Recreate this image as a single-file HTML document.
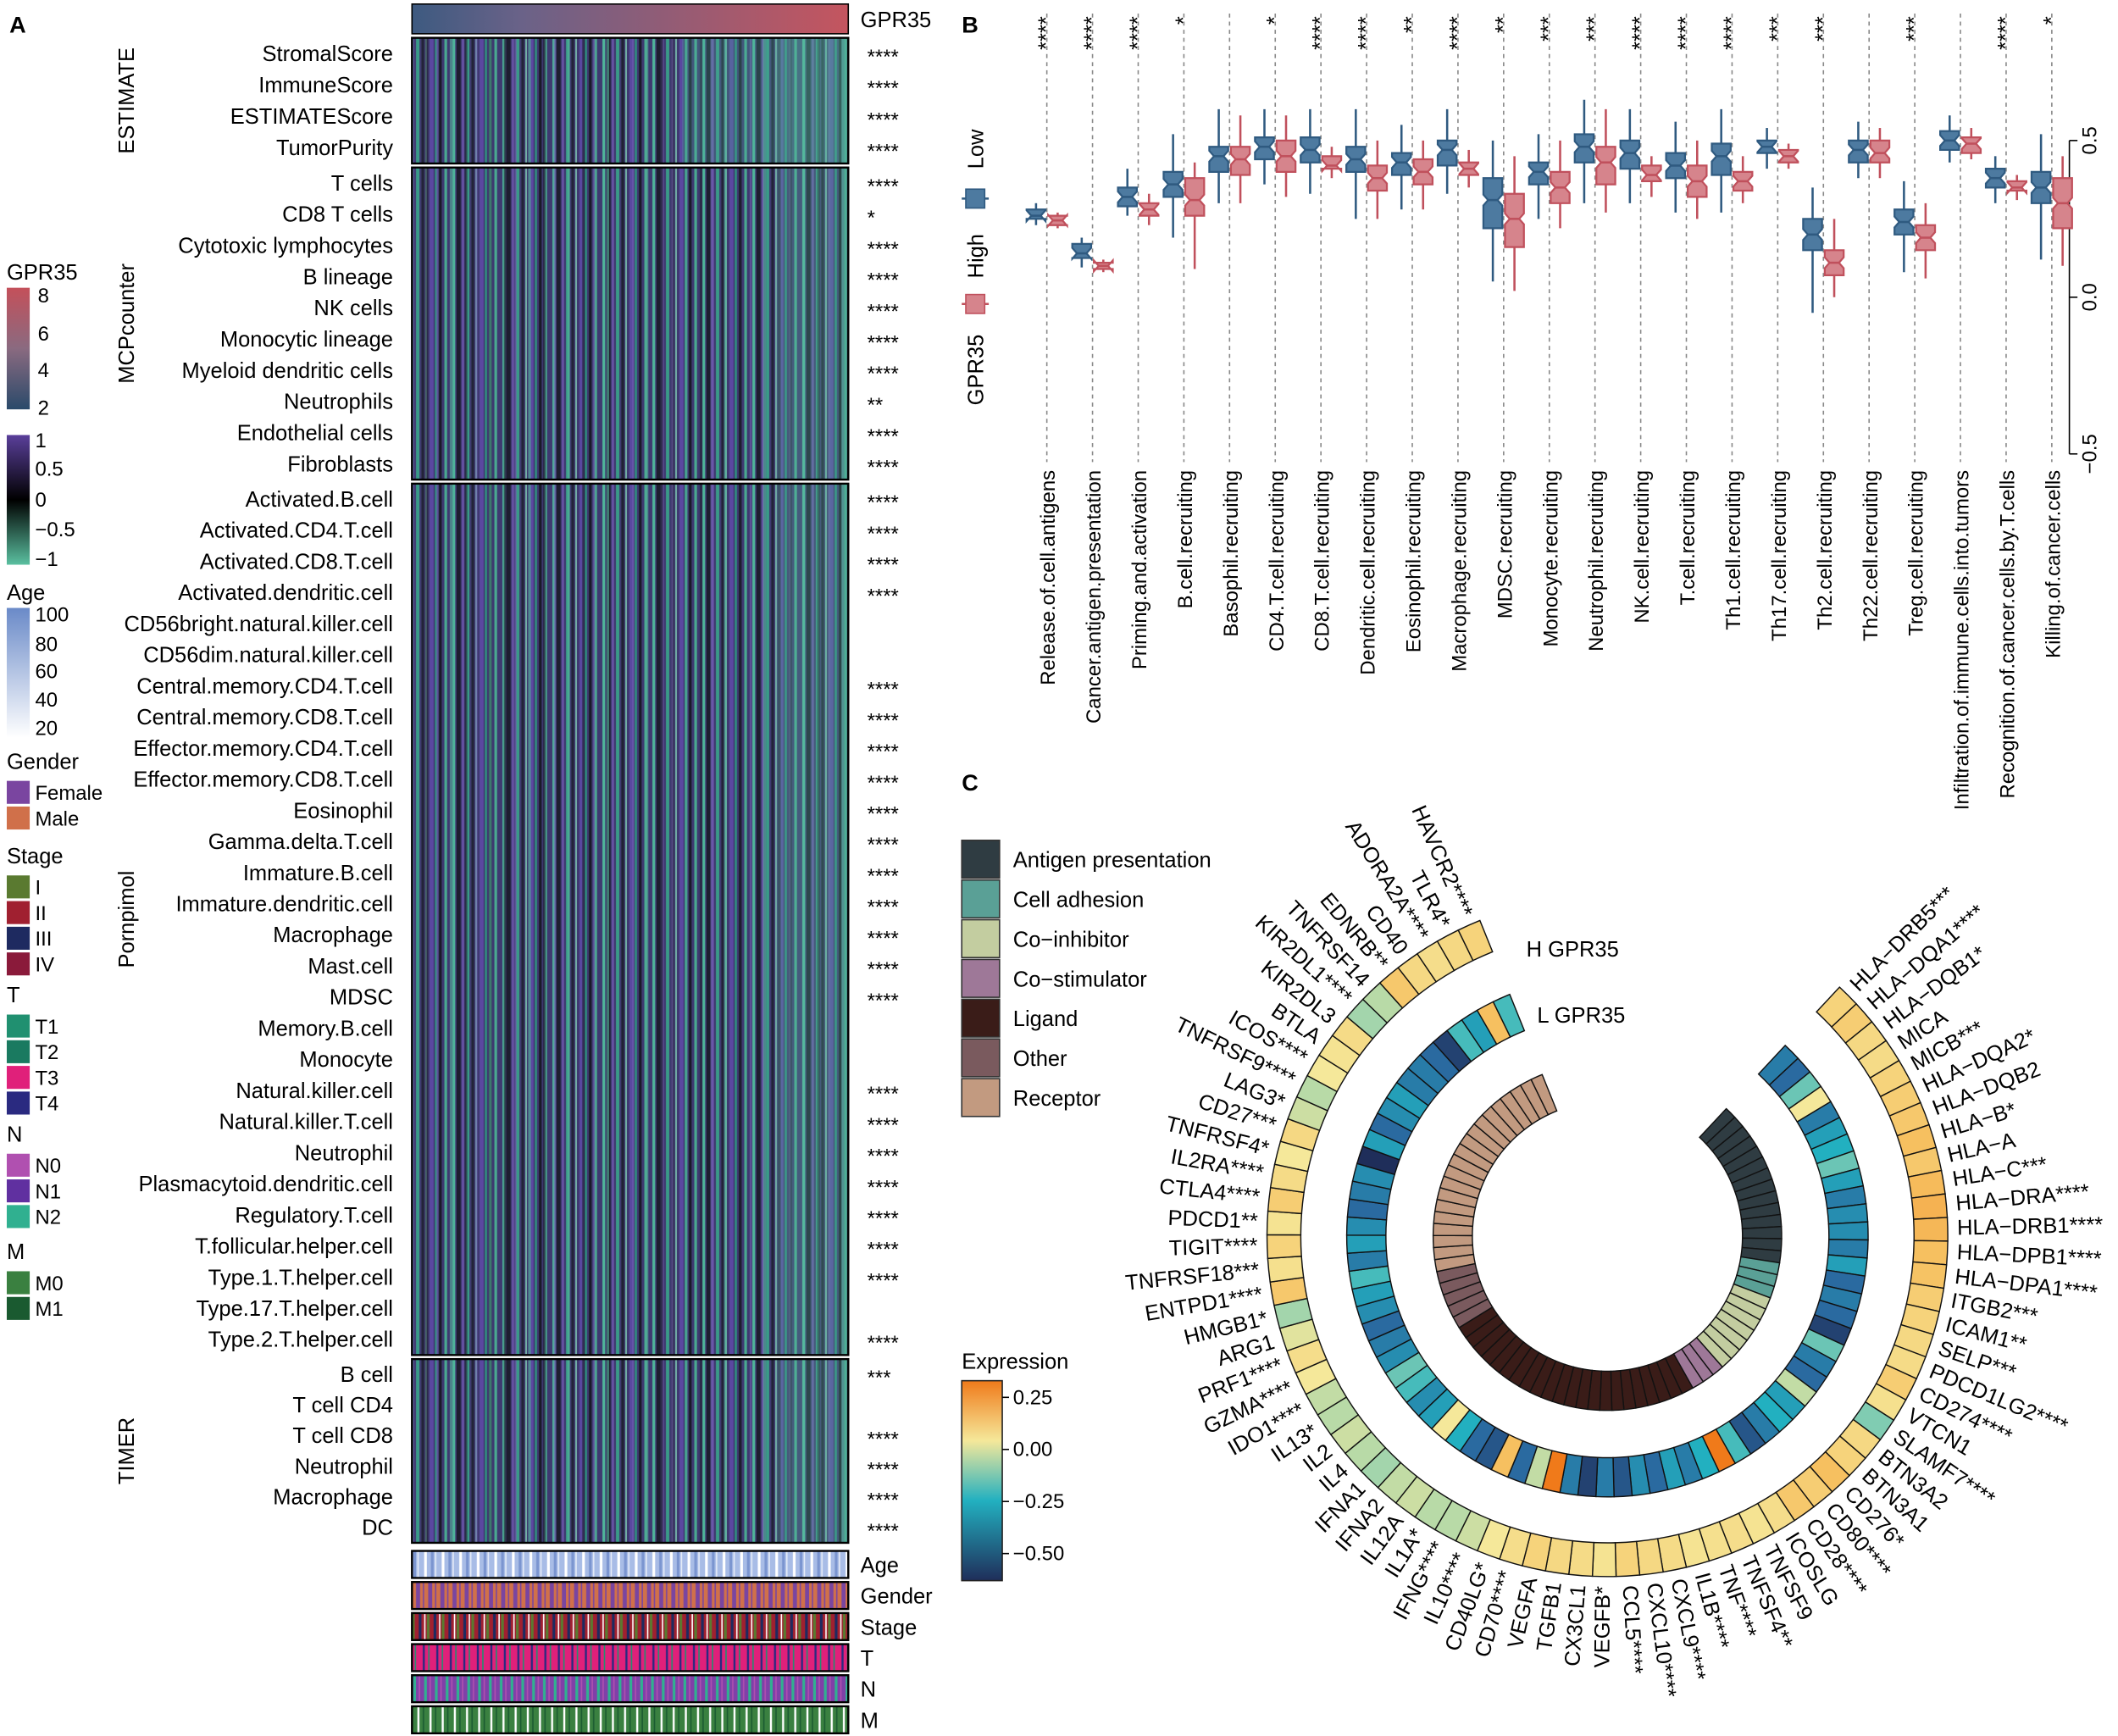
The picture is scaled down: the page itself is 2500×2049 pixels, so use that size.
<!DOCTYPE html>
<html><head><meta charset="utf-8"><style>
html,body{margin:0;padding:0;background:#fff;}
svg{display:block;font-family:"Liberation Sans",Arial,sans-serif;}
</style></head><body>
<svg id="fig" width="2500" height="2049" viewBox="0 0 1568 1285" preserveAspectRatio="none" xmlns="http://www.w3.org/2000/svg">
<defs>
<linearGradient id="gprGrad" x1="0" x2="1" y1="0" y2="0"><stop offset="0" stop-color="#3d5a80"/><stop offset="0.25" stop-color="#6a6288"/><stop offset="1" stop-color="#c4555f"/></linearGradient>
<linearGradient id="gprLeg" x1="0" x2="0" y1="0" y2="1"><stop offset="0" stop-color="#c4505a"/><stop offset="0.5" stop-color="#8a6a80"/><stop offset="1" stop-color="#2a4a6a"/></linearGradient>
<linearGradient id="scoreLeg" x1="0" x2="0" y1="0" y2="1"><stop offset="0" stop-color="#5a3f9a"/><stop offset="0.5" stop-color="#000"/><stop offset="1" stop-color="#5ac0a0"/></linearGradient>
<linearGradient id="ageLeg" x1="0" x2="0" y1="0" y2="1"><stop offset="0" stop-color="#6a8ac8"/><stop offset="1" stop-color="#fff"/></linearGradient>
<linearGradient id="exprLeg" x1="0" x2="0" y1="0" y2="1"><stop offset="0" stop-color="#f07a1a"/><stop offset="0.3" stop-color="#f5e89a"/><stop offset="0.6" stop-color="#22b0c0"/><stop offset="1" stop-color="#1f2e5a"/></linearGradient>
<pattern id="hmPat" width="37" height="23" patternUnits="userSpaceOnUse">
<rect width="37" height="23" fill="#3e3a70"/>
<rect x="2" width="2" height="23" fill="#4fb59a"/><rect x="5" width="3" height="23" fill="#1e1e30"/>
<rect x="9" width="1.5" height="23" fill="#6a55a8"/><rect x="12" width="2.5" height="23" fill="#3a9a88"/>
<rect x="16" width="2" height="23" fill="#232338"/><rect x="19" width="1" height="23" fill="#7dc8b0"/>
<rect x="22" width="3" height="23" fill="#5a48a0"/><rect x="26" width="1.5" height="23" fill="#2f8f80"/>
<rect x="29" width="2" height="23" fill="#1a1a28"/><rect x="33" width="2" height="23" fill="#4aa890"/>
</pattern>
<pattern id="hmPat2" width="29" height="31" patternUnits="userSpaceOnUse" x="11">
<rect x="3" width="2" height="31" fill="#55b89c" opacity="0.6"/><rect x="14" width="2" height="31" fill="#202030" opacity="0.6"/>
<rect x="22" width="1.5" height="31" fill="#7060b0" opacity="0.6"/>
</pattern>
<pattern id="agePat" width="13" height="20" patternUnits="userSpaceOnUse"><rect width="13" height="20" fill="#a8bce6"/><rect x="2" width="2" height="20" fill="#fff"/><rect x="7" width="2" height="20" fill="#7b95d0"/><rect x="10" width="1" height="20" fill="#e6ecf8"/></pattern>
<pattern id="genPat" width="9" height="20" patternUnits="userSpaceOnUse"><rect width="9" height="20" fill="#d0704a"/><rect x="2" width="3" height="20" fill="#7a45a0"/><rect x="7" width="1" height="20" fill="#7a45a0"/></pattern>
<pattern id="stgPat" width="11" height="20" patternUnits="userSpaceOnUse"><rect width="11" height="20" fill="#a02030"/><rect x="2" width="2" height="20" fill="#1e2a60"/><rect x="6" width="1" height="20" fill="#fff"/><rect x="8" width="2" height="20" fill="#5a7a30"/></pattern>
<pattern id="tPat" width="10" height="20" patternUnits="userSpaceOnUse"><rect width="10" height="20" fill="#e0207a"/><rect x="3" width="1.5" height="20" fill="#2a2a80"/><rect x="7" width="1" height="20" fill="#209070"/></pattern>
<pattern id="nPat" width="8" height="20" patternUnits="userSpaceOnUse"><rect width="8" height="20" fill="#8040a8"/><rect x="2" width="2" height="20" fill="#30b090"/><rect x="6" width="1" height="20" fill="#b050b0"/></pattern>
<pattern id="mPat" width="9" height="20" patternUnits="userSpaceOnUse"><rect width="9" height="20" fill="#3a8040"/><rect x="3" width="1.5" height="20" fill="#fff"/><rect x="7" width="1" height="20" fill="#1a5a30"/></pattern>
</defs>
<g id="panelA"></g>
<g id="panelB"></g>
<g id="panelC"></g>
</svg>
<script>
// ---------- Panel A data ----------
const estimateRows=["StromalScore","ImmuneScore","ESTIMATEScore","TumorPurity"];
const estimateSig=["****","****","****","****"];
const mcpRows=["T cells","CD8 T cells","Cytotoxic lymphocytes","B lineage","NK cells","Monocytic lineage","Myeloid dendritic cells","Neutrophils","Endothelial cells","Fibroblasts"];
const mcpSig=["****","*","****","****","****","****","****","**","****","****"];
const pornRows=["Activated.B.cell","Activated.CD4.T.cell","Activated.CD8.T.cell","Activated.dendritic.cell","CD56bright.natural.killer.cell","CD56dim.natural.killer.cell","Central.memory.CD4.T.cell","Central.memory.CD8.T.cell","Effector.memory.CD4.T.cell","Effector.memory.CD8.T.cell","Eosinophil","Gamma.delta.T.cell","Immature.B.cell","Immature.dendritic.cell","Macrophage","Mast.cell","MDSC","Memory.B.cell","Monocyte","Natural.killer.cell","Natural.killer.T.cell","Neutrophil","Plasmacytoid.dendritic.cell","Regulatory.T.cell","T.follicular.helper.cell","Type.1.T.helper.cell","Type.17.T.helper.cell","Type.2.T.helper.cell"];
const pornSig=["****","****","****","****","","","****","****","****","****","****","****","****","****","****","****","****","","","****","****","****","****","****","****","****","","****"];
const timerRows=["B cell","T cell CD4","T cell CD8","Neutrophil","Macrophage","DC"];
const timerSig=["***","","****","****","****","****"];

// ---------- Panel B data ----------
const bCats=["Release.of.cell.antigens","Cancer.antigen.presentation","Priming.and.activation","B.cell.recruiting","Basophil.recruiting","CD4.T.cell.recruiting","CD8.T.cell.recruiting","Dendritic.cell.recruiting","Eosinophil.recruiting","Macrophage.recruiting","MDSC.recruiting","Monocyte.recruiting","Neutrophil.recruiting","NK.cell.recruiting","T.cell.recruiting","Th1.cell.recruiting","Th17.cell.recruiting","Th2.cell.recruiting","Th22.cell.recruiting","Treg.cell.recruiting","Infiltration.of.immune.cells.into.tumors","Recognition.of.cancer.cells.by.T.cells","Killing.of.cancer.cells"];
const bSig=["****","****","****","*","","*","****","****","**","****","**","***","***","****","****","****","***","***","","***","","****","*"];
const lowMed=[0.26,0.14,0.32,0.36,0.45,0.48,0.47,0.44,0.43,0.47,0.31,0.40,0.48,0.46,0.42,0.45,0.48,0.20,0.47,0.24,0.50,0.38,0.35];
const lowQ1=[0.25,0.125,0.29,0.32,0.40,0.44,0.43,0.40,0.39,0.42,0.22,0.36,0.43,0.41,0.38,0.39,0.46,0.15,0.43,0.20,0.47,0.35,0.30];
const lowQ3=[0.28,0.17,0.35,0.40,0.48,0.51,0.51,0.48,0.46,0.50,0.38,0.43,0.52,0.50,0.46,0.49,0.50,0.25,0.50,0.28,0.53,0.41,0.40];
const lowMin=[0.23,0.095,0.26,0.19,0.30,0.36,0.33,0.25,0.28,0.33,0.05,0.25,0.30,0.30,0.27,0.27,0.41,-0.05,0.38,0.08,0.43,0.30,0.12];
const lowMax=[0.30,0.19,0.41,0.52,0.60,0.60,0.60,0.60,0.55,0.60,0.50,0.52,0.63,0.60,0.56,0.60,0.54,0.35,0.56,0.37,0.58,0.45,0.52];
const highMed=[0.245,0.10,0.28,0.31,0.44,0.45,0.42,0.38,0.40,0.41,0.25,0.35,0.43,0.39,0.37,0.37,0.45,0.11,0.46,0.19,0.49,0.35,0.30];
const highQ1=[0.23,0.09,0.26,0.26,0.39,0.40,0.41,0.34,0.36,0.39,0.16,0.30,0.36,0.37,0.32,0.34,0.43,0.07,0.43,0.15,0.46,0.34,0.22];
const highQ3=[0.26,0.11,0.30,0.38,0.48,0.50,0.45,0.42,0.44,0.43,0.33,0.40,0.48,0.42,0.42,0.40,0.47,0.15,0.50,0.23,0.51,0.37,0.38];
const highMin=[0.22,0.08,0.23,0.09,0.30,0.32,0.38,0.25,0.28,0.35,0.02,0.22,0.27,0.32,0.25,0.30,0.41,0.00,0.38,0.06,0.44,0.31,0.10];
const highMax=[0.27,0.12,0.33,0.43,0.58,0.58,0.48,0.50,0.50,0.47,0.45,0.50,0.60,0.45,0.50,0.45,0.49,0.25,0.54,0.30,0.54,0.39,0.45];
const bTicks=[-0.5,0,0.5];
const bTickLabels=["−0.5","0.0","0.5"];

// ---------- Panel C data ----------
const cGenes=["HLA−DRB5***","HLA−DQA1****","HLA−DQB1*","MICA","MICB***","HLA−DQA2*","HLA−DQB2","HLA−B*","HLA−A","HLA−C***","HLA−DRA****","HLA−DRB1****","HLA−DPB1****","HLA−DPA1****","ITGB2***","ICAM1**","SELP***","PDCD1LG2****","CD274****","VTCN1","SLAMF7****","BTN3A2","BTN3A1","CD276*","CD80****","CD28****","ICOSLG","TNFSF9","TNFSF4**","TNF****","IL1B****","CXCL9****","CXCL10****","CCL5****","VEGFB*","CX3CL1","TGFB1","VEGFA","CD70****","CD40LG*","IL10****","IFNG****","IL1A*","IL12A","IFNA2","IFNA1","IL4","IL2","IL13*","IDO1****","GZMA****","PRF1****","ARG1","HMGB1*","ENTPD1****","TNFRSF18***","TIGIT****","PDCD1**","CTLA4****","IL2RA****","TNFRSF4*","CD27***","LAG3*","TNFRSF9****","ICOS****","BTLA","KIR2DL3","KIR2DL1****","TNFRSF14","EDNRB**","CD40","ADORA2A****","TLR4*","HAVCR2****"];
const cCategory=[0,0,0,0,0,0,0,0,0,0,0,0,0,0,1,1,1,2,2,2,2,2,2,2,3,3,3,4,4,4,4,4,4,4,4,4,4,4,4,4,4,4,4,4,4,4,4,4,4,5,5,5,5,5,6,6,6,6,6,6,6,6,6,6,6,6,6,6,6,6,6,6,6,6];
const catNames=["Antigen presentation","Cell adhesion","Co−inhibitor","Co−stimulator","Ligand","Other","Receptor"];
const catColors=["#2f3c42","#5aa096","#c3cda0","#9e7898","#3a1c18","#7a5a5e","#c29a80"];
const hExpr=[0.08,0.10,0.06,0.05,0.08,0.10,0.12,0.15,0.12,0.16,0.18,0.17,0.15,0.14,0.10,0.08,0.06,0.05,0.10,0.03,-0.12,0.06,0.08,0.15,0.10,0.12,0.04,0.02,0.04,0.03,0.02,0.05,0.06,0.08,0.02,0.05,0.06,0.08,0.04,0.00,-0.04,-0.06,-0.06,-0.04,-0.05,-0.08,-0.06,-0.04,-0.06,-0.05,0.00,0.04,-0.02,-0.08,0.12,0.03,0.08,0.02,0.10,0.05,0.00,0.06,-0.04,-0.06,0.00,0.02,0.05,-0.08,-0.06,0.12,0.06,0.04,0.06,0.08];
const lExpr=[-0.40,-0.45,-0.15,0.00,-0.40,-0.30,-0.25,-0.15,-0.30,-0.40,-0.35,-0.35,-0.40,-0.30,-0.45,-0.40,-0.45,-0.55,-0.15,-0.40,-0.45,-0.05,-0.30,-0.25,-0.40,-0.50,-0.20,0.30,-0.25,-0.40,-0.30,-0.45,-0.35,-0.50,-0.40,-0.55,-0.40,0.33,-0.05,-0.45,0.15,-0.50,-0.45,-0.25,0.00,-0.30,-0.35,-0.20,-0.15,-0.35,-0.40,-0.45,-0.35,-0.30,-0.20,-0.40,-0.30,-0.35,-0.45,-0.40,-0.35,-0.60,-0.30,-0.45,-0.35,-0.30,-0.40,-0.40,-0.45,-0.55,-0.20,-0.30,0.15,-0.20,-0.30,-0.50,-0.35,-0.20,-0.40,-0.45];
const exprTicks=[0.25,0,-0.25,-0.5];
const exprTickLabels=["0.25","0.00","−0.25","−0.50"];

const NS="http://www.w3.org/2000/svg";
function mk(parent,tag,attrs,txt){const e=document.createElementNS(NS,tag);for(const k in attrs)e.setAttribute(k,attrs[k]);if(txt!==undefined)e.textContent=txt;parent.appendChild(e);return e;}

// ================= PANEL A =================
const A=document.getElementById('panelA');
let t=mk(A,'text',{x:7,y:24,'font-size':17,'font-weight':'bold'},'A');

const hmX=305,hmW=323;
let g=mk(A,'rect',{x:hmX,y:3,width:hmW,height:22,fill:'url(#gprGrad)',stroke:'#000','stroke-width':1});

t=mk(A,'text',{x:637,y:20,'font-size':16},'GPR35');

const blocks=[
 {name:'ESTIMATE',rows:estimateRows,sig:estimateSig,y0:28,y1:121},
 {name:'MCPcounter',rows:mcpRows,sig:mcpSig,y0:124,y1:355},
 {name:'Pornpimol',rows:pornRows,sig:pornSig,y0:358,y1:1003},
 {name:'TIMER',rows:timerRows,sig:timerSig,y0:1006,y1:1142}];
blocks.forEach((b,bi)=>{
 const grp=mk(A,'g',{});
 
 mk(grp,'rect',{x:hmX,y:b.y0,width:hmW,height:b.y1-b.y0,fill:'url(#hmPat)'});
 mk(grp,'rect',{x:hmX,y:b.y0,width:hmW,height:b.y1-b.y0,fill:'url(#hmPat2)'});
 if(bi===0) mk(grp,'rect',{x:hmX+200,y:b.y0,width:hmW-200,height:b.y1-b.y0,fill:'#4fb59a',opacity:0.25});
 mk(grp,'rect',{x:hmX+270,y:b.y0,width:hmW-270,height:b.y1-b.y0,fill:'#5ac0a0',opacity:0.25});
 mk(grp,'rect',{x:hmX,y:b.y0,width:hmW,height:b.y1-b.y0,fill:'none',stroke:'#000','stroke-width':1.5});
 const rh=(b.y1-b.y0)/b.rows.length;
 b.rows.forEach((r,i)=>{
  const cy=b.y0+rh*(i+0.5)+5.5;
  const lt=mk(grp,'text',{x:291,y:cy,'font-size':16,'text-anchor':'end'},r);
  
  if(b.sig[i]){const st=mk(grp,'text',{x:642,y:cy+2,'font-size':15},b.sig[i]);
   }
 });
 const my=(b.y0+b.y1)/2;
 const gl=mk(grp,'text',{x:0,y:0,'font-size':16,'text-anchor':'middle',transform:`translate(99,${my}) rotate(-90)`},b.name);
 
});
const annots=[["Age","agePat",1148],["Gender","genPat",1171],["Stage","stgPat",1194],["T","tPat",1217],["N","nPat",1240],["M","mPat",1263]];
annots.forEach(a=>{
 const r=mk(A,'rect',{x:hmX,y:a[2],width:hmW,height:20,fill:'url(#'+a[1]+')',stroke:'#000','stroke-width':1.5});
 
 const l=mk(A,'text',{x:637,y:a[2]+16,'font-size':16},a[0]);
 
});
function legTitle(txt,y){const e=mk(A,'text',{x:5,y:y,'font-size':16},txt);}
function legText(txt,x,y){const e=mk(A,'text',{x:x,y:y,'font-size':15},txt);}
legTitle('GPR35',207);
let lb=mk(A,'rect',{x:5,y:213,width:17,height:90,fill:'url(#gprLeg)'});
[['8',219],['6',247],['4',274],['2',302]].forEach(v=>legText(v[0],28,v[1]+5));
lb=mk(A,'rect',{x:5,y:322,width:17,height:96,fill:'url(#scoreLeg)'});
[['1',326],['0.5',347],['0',370],['−0.5',392],['−1',414]].forEach(v=>legText(v[0],26,v[1]+5));
legTitle('Age',444);
lb=mk(A,'rect',{x:5,y:450,width:17,height:96,fill:'url(#ageLeg)'});
[['100',455],['80',477],['60',497],['40',518],['20',539]].forEach(v=>legText(v[0],26,v[1]+5));
const swatches=[["Gender",569,[["Female","#7a45a0"],["Male","#d0704a"]]],["Stage",639,[["I","#5a7a30"],["II","#a02030"],["III","#1e2a60"],["IV","#8a1a3a"]]],["T",742,[["T1","#209070"],["T2","#1a7a60"],["T3","#e0207a"],["T4","#2a2a80"]]],["N",845,[["N0","#b050b0"],["N1","#6030a0"],["N2","#30b090"]]],["M",932,[["M0","#3a8040"],["M1","#1a5a30"]]]];
swatches.forEach(s=>{legTitle(s[0],s[1]);s[2].forEach((it,i)=>{const yy=s[1]+9+i*19;
 const r=mk(A,'rect',{x:5,y:yy,width:17,height:17,fill:it[1]});
 legText(it[0],26,yy+14);});});

// ================= PANEL B =================
const B=document.getElementById('panelB');
t=mk(B,'text',{x:712,y:24,'font-size':17,'font-weight':'bold'},'B');
const bx0=775,bx1=1519,axX=1532;
function xB(i){return bx0+(bx1-bx0)*i/(bCats.length-1);}
function yB(v){return 220-v*232;}
let ax=mk(B,'line',{x1:axX,x2:axX,y1:yB(0.5),y2:yB(-0.5),stroke:'#000','stroke-width':1});
bTicks.forEach((v,i)=>{const tk=mk(B,'line',{x1:axX,x2:axX+6,y1:yB(v),y2:yB(v),stroke:'#000'});
 const tl=mk(B,'text',{x:0,y:0,'font-size':15,'text-anchor':'middle',transform:`translate(${axX+20},${yB(v)}) rotate(-90)`},bTickLabels[i]);});
function box(grp,c,q1,q3,md,mn,mxv,col,fill){
 const w=7,n=4;
 mk(grp,'line',{x1:c,x2:c,y1:yB(mxv),y2:yB(mn),stroke:col,'stroke-width':1.6});
 const y1=yB(q3),y3=yB(q1),ym=yB(md);
 const pts=[[c-w,y1],[c+w,y1],[c+w,ym-n],[c+w/2,ym],[c+w,ym+n],[c+w,y3],[c-w,y3],[c-w,ym+n],[c-w/2,ym],[c-w,ym-n]].map(p=>p.join(',')).join(' ');
 mk(grp,'polygon',{points:pts,fill:fill,stroke:col,'stroke-width':1.4});
 mk(grp,'line',{x1:c-w/2,x2:c+w/2,y1:ym,y2:ym,stroke:col,'stroke-width':1.6});
}
bCats.forEach((c,i)=>{
 const x=xB(i);
 const dl=mk(B,'line',{x1:x,x2:x,y1:10,y2:342,stroke:'#888','stroke-dasharray':'3,3','stroke-width':1});
 const gl=mk(B,'g',{});
 box(gl,x-8,lowQ1[i],lowQ3[i],lowMed[i],lowMin[i],lowMax[i],'#2f5a80','#4d7aa0');
 const gh=mk(B,'g',{});
 box(gh,x+8,highQ1[i],highQ3[i],highMed[i],highMin[i],highMax[i],'#c0505c','#d6848c');
 if(bSig[i]){const s=mk(B,'text',{x:0,y:0,'font-size':16,'text-anchor':'end',transform:`translate(${x+5},12) rotate(-90)`},bSig[i]);}
 const xl=mk(B,'text',{x:0,y:0,'font-size':15,'text-anchor':'end',transform:`translate(${x+6},348) rotate(-90)`},c);
});
[['GPR35',300],['High',206],['Low',125]].forEach(v=>{const e=mk(B,'text',{x:0,y:0,'font-size':16,'text-anchor':'start',transform:`translate(728,${v[1]}) rotate(-90)`},v[0]);});
let lgL=mk(B,'g',{});
mk(lgL,'line',{x1:712,x2:732,y1:147,y2:147,stroke:'#2f5a80','stroke-width':1.6});mk(lgL,'rect',{x:715,y:140,width:14,height:14,fill:'#4d7aa0',stroke:'#2f5a80'});
let lgH=mk(B,'g',{});
mk(lgH,'line',{x1:712,x2:732,y1:225,y2:225,stroke:'#c0505c','stroke-width':1.6});mk(lgH,'rect',{x:715,y:218,width:14,height:14,fill:'#d6848c',stroke:'#c0505c'});

// ================= PANEL C =================
const C=document.getElementById('panelC');
t=mk(C,'text',{x:712,y:585,'font-size':17,'font-weight':'bold'},'C');
catNames.forEach((n,i)=>{const yy=622+i*29.4;
 const r=mk(C,'rect',{x:712,y:yy,width:28,height:28,fill:catColors[i],stroke:'#333'});
 const l=mk(C,'text',{x:750,y:yy+20,'font-size':16},n);});
t=mk(C,'text',{x:712,y:1013,'font-size':16},'Expression');
const eb0=1022,eb1=1170,ev0=0.33,ev1=-0.63;
function yE(v){return eb0+(ev0-v)/(ev0-ev1)*(eb1-eb0);}
lb=mk(C,'rect',{x:712,y:eb0,width:30,height:eb1-eb0,fill:'url(#exprLeg)',stroke:'#222'});
exprTicks.forEach((v,i)=>{mk(C,'line',{x1:742,x2:747,y1:yE(v),y2:yE(v),stroke:'#000'});
 const l=mk(C,'text',{x:750,y:yE(v)+5,'font-size':15},exprTickLabels[i]);});
const stops=[[-0.6,[31,46,90]],[-0.45,[42,106,160]],[-0.25,[34,176,192]],[-0.1,[143,208,176]],[0,[245,232,154]],[0.15,[246,192,96]],[0.3,[240,122,26]]];
function ecol(v){if(v<=stops[0][0])return 'rgb('+stops[0][1]+')';for(let i=1;i<stops.length;i++){if(v<=stops[i][0]){const a=stops[i-1],b=stops[i],f=(v-a[0])/(b[0]-a[0]);return 'rgb('+a[1].map((c,k)=>Math.round(c+(b[1][k]-c)*f)).join(',')+')';}}return 'rgb('+stops[stops.length-1][1]+')';}
const cx=1190,cy=915,a0=-47,a1=248;
function ang(i){return a0+(a1-a0)*i/cGenes.length;}
function sector(grp,ia,r0,r1,fill){
 const s=ang(ia)*Math.PI/180,e=ang(ia+1)*Math.PI/180;
 const p=(r,a)=>(cx+r*Math.cos(a)).toFixed(2)+','+(cy+r*Math.sin(a)).toFixed(2);
 return mk(grp,'path',{d:`M${p(r0,s)}L${p(r1,s)}A${r1},${r1} 0 0 1 ${p(r1,e)}L${p(r0,e)}A${r0},${r0} 0 0 0 ${p(r0,s)}Z`,fill:fill,stroke:'#111','stroke-width':0.9});
}
const rings=[['ring-h-gpr35',227,252,hExpr],['ring-l-gpr35',164,193,lExpr]];
rings.forEach(rg=>{const grp=mk(C,'g',{});
 cGenes.forEach((gn,i)=>{const s=sector(grp,i,rg[1],rg[2],ecol(rg[3][i]));});});
const catRing=mk(C,'g',{});
cGenes.forEach((gn,i)=>{const s=sector(catRing,i,100,129,catColors[cCategory[i]]);});
t=mk(C,'text',{x:1130,y:708,'font-size':16},'H GPR35');
t=mk(C,'text',{x:1138,y:757,'font-size':16},'L GPR35');
cGenes.forEach((gn,i)=>{const a=ang(i+0.5);const rad=a*Math.PI/180;const r=259;
 const x=cx+r*Math.cos(rad),y=cy+r*Math.sin(rad);const right=Math.cos(rad)>=0;
 const rot=right?a:a+180;
 const l=mk(C,'text',{x:0,y:0,'font-size':16,'text-anchor':right?'start':'end','dominant-baseline':'middle',transform:`translate(${x.toFixed(1)},${y.toFixed(1)}) rotate(${rot.toFixed(1)})`},gn);
 });
</script>
</body></html>
